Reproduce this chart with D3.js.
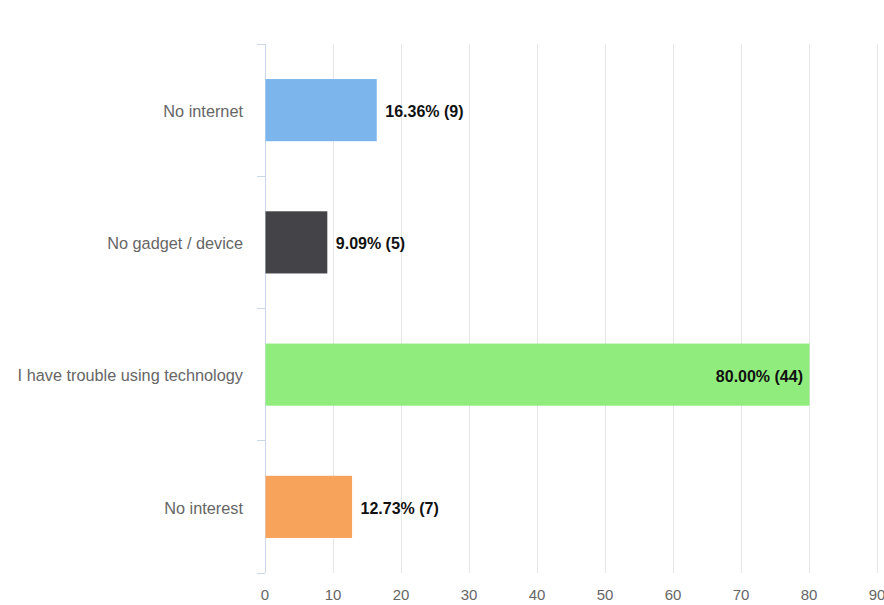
<!DOCTYPE html>
<html><head><meta charset="utf-8">
<script src="https://cdn.jsdelivr.net/npm/d3@7"></script>
<style>body{margin:0;background:#fff;font-family:"Liberation Sans",Arial,sans-serif;}</style>
</head><body><svg id="c" width="884" height="605"></svg>
<script>
const categories = ["No internet","No gadget / device","I have trouble using technology","No interest"];
const percents = [16.36, 9.09, 80.00, 12.73];
const counts = [9, 5, 44, 7];
const colors = ["#7cb5ec","#434348","#90ed7d","#f7a35c"];
const xTicks = [0,10,20,30,40,50,60,70,80,90];

(function(){
const svg = d3.select("#c");
const mLeft = 265, mRight = 877, mTop = 44, mBottom = 573;
const x = d3.scaleLinear().domain([0,90]).range([mLeft,mRight]);
const y = d3.scaleBand().domain(categories).range([mTop,mBottom]).paddingInner(0.53).paddingOuter(0.265);

svg.append("g").selectAll("line").data(xTicks.slice(1)).join("line")
  .attr("x1",d=>x(d)).attr("x2",d=>x(d)).attr("y1",mTop).attr("y2",mBottom)
  .attr("stroke","#e6e6e6").attr("stroke-width",1).attr("shape-rendering","crispEdges");

svg.append("g").selectAll("text").data(xTicks).join("text")
  .attr("x",d=>x(d)).attr("y",600).attr("text-anchor","middle")
  .attr("font-size",15).attr("fill","#666").text(d=>d);

const step = (mBottom-mTop)/categories.length;
const bounds = d3.range(categories.length+1).map(i=>mTop+i*step);
svg.append("line").attr("x1",mLeft).attr("x2",mLeft).attr("y1",mTop).attr("y2",mBottom)
  .attr("stroke","#ccd6eb").attr("shape-rendering","crispEdges");
svg.append("g").selectAll("line").data(bounds).join("line")
  .attr("x1",mLeft-8).attr("x2",mLeft).attr("y1",d=>d).attr("y2",d=>d)
  .attr("stroke","#ccd6eb").attr("shape-rendering","crispEdges");

svg.append("g").selectAll("text").data(categories).join("text")
  .attr("x",243).attr("y",d=>y(d)+y.bandwidth()/2+1).attr("dy","0.35em")
  .attr("text-anchor","end").attr("font-size",16.3).attr("fill","#666").text(d=>d);

svg.append("g").selectAll("rect").data(categories).join("rect")
  .attr("x",x(0)+0.5).attr("y",d=>y(d)).attr("height",y.bandwidth())
  .attr("width",(d,i)=>x(percents[i])-x(0))
  .attr("fill",(d,i)=>colors[i]);

svg.append("g").selectAll("text").data(categories).join("text")
  .attr("x",(d,i)=> percents[i] > 70 ? x(percents[i]) - 6 : x(percents[i]) + 9)
  .attr("y",d=>y(d)+y.bandwidth()/2+1.5).attr("dy","0.35em")
  .attr("text-anchor",(d,i)=> percents[i] > 70 ? "end" : "start")
  .attr("font-size",16).attr("font-weight","bold").attr("fill","#111")
  .text((d,i)=>percents[i].toFixed(2)+"% ("+counts[i]+")");
})();
</script></body></html>
